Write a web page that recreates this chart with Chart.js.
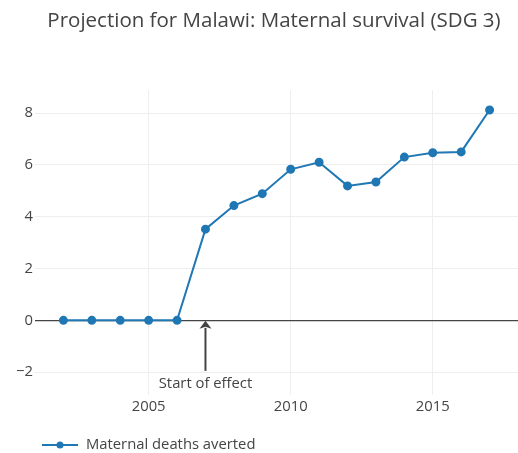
<!DOCTYPE html>
<html lang="en">
<head>
  <meta charset="UTF-8" />
  <title>Projection for Malawi</title>
  <script src="https://cdn.jsdelivr.net/npm/chart.js"></script>
  <style>
    html, body { margin: 0; padding: 0; background: #fff; }
    #wrap { width: 518px; height: 453px; }
  </style>
</head>
<body>
  <div id="wrap"><canvas id="chart"></canvas></div>

  <script>
    const years = [2002, 2003, 2004, 2005, 2006, 2007, 2008, 2009, 2010, 2011, 2012, 2013, 2014, 2015, 2016, 2017];
    const deathsAverted = [0, 0, 0, 0, 0, 3.52, 4.43, 4.89, 5.83, 6.1, 5.19, 5.34, 6.3, 6.47, 6.5, 8.12];
    const xTicks = [2005, 2010, 2015];
    const yTicks = [-2, 0, 2, 4, 6, 8];
    const effectYear = 2007;
    const effectLabel = 'Start of effect';
    const titleText = 'Projection for Malawi: Maternal survival (SDG 3)';
    const seriesName = 'Maternal deaths averted';

    const FONT = '"Open Sans", verdana, arial, sans-serif';
    const TEXT = '#444';
    const BLUE = '#1f77b4';

    // title, arrow annotation and legend drawn by hand
    const extras = {
      id: 'extras',
      afterDraw(chart) {
        const ctx = chart.ctx;
        const xs = chart.scales.x, ys = chart.scales.y;
        ctx.save();

        ctx.fillStyle = TEXT;
        ctx.font = '20.5px ' + FONT;
        ctx.textAlign = 'center';
        ctx.textBaseline = 'middle';
        ctx.fillText(titleText, 274, 21);

        // annotation arrow
        const ax = xs.getPixelForValue(effectYear);
        const ay = ys.getPixelForValue(0) + 0.5;
        ctx.strokeStyle = TEXT;
        ctx.fillStyle = TEXT;
        ctx.lineWidth = 2;
        ctx.beginPath();
        ctx.moveTo(ax, ay + 7);
        ctx.lineTo(ax, ay + 50);
        ctx.stroke();
        ctx.beginPath();
        ctx.moveTo(ax, ay);
        ctx.lineTo(ax - 6, ay + 8);
        ctx.lineTo(ax, ay + 6);
        ctx.lineTo(ax + 6, ay + 8);
        ctx.closePath();
        ctx.fill();
        ctx.font = '14.8px ' + FONT;
        ctx.fillText(effectLabel, ax, ay + 63);

        // legend
        const ly = 445;
        ctx.strokeStyle = BLUE;
        ctx.fillStyle = BLUE;
        ctx.lineWidth = 2;
        ctx.beginPath();
        ctx.moveTo(42, ly);
        ctx.lineTo(78, ly);
        ctx.stroke();
        ctx.beginPath();
        ctx.arc(60, ly, 3.5, 0, Math.PI * 2);
        ctx.fill();
        ctx.fillStyle = TEXT;
        ctx.textAlign = 'left';
        ctx.font = '14.8px ' + FONT;
        ctx.fillText(seriesName, 86, ly);

        ctx.restore();
      }
    };

    new Chart(document.getElementById('chart'), {
      type: 'line',
      data: {
        datasets: [{
          label: seriesName,
          data: years.map((y, i) => ({ x: y, y: deathsAverted[i] })),
          borderColor: BLUE,
          backgroundColor: BLUE,
          borderWidth: 2,
          pointRadius: 3.5,
          pointHoverRadius: 4,
          tension: 0
        }]
      },
      options: {
        responsive: true,
        maintainAspectRatio: false,
        animation: false,
        layout: { autoPadding: false, padding: { top: 90, right: 0, bottom: 0, left: 0 } },
        plugins: {
          legend: { display: false },
          title: { display: false },
          tooltip: { enabled: false }
        },
        scales: {
          x: {
            type: 'linear',
            min: 2001,
            max: 2018,
            afterFit(s) { s.height = 58; },
            afterBuildTicks(s) { s.ticks = xTicks.map(v => ({ value: v })); },
            border: { display: false },
            grid: { color: '#eee', drawTicks: false },
            ticks: {
              color: TEXT,
              font: { family: FONT, size: 14.8 },
              padding: 3,
              maxRotation: 0,
              callback: v => String(v)
            }
          },
          y: {
            min: -2.88,
            max: 8.89,
            afterFit(s) { s.width = 35; },
            afterBuildTicks(s) { s.ticks = yTicks.map(v => ({ value: v })); },
            border: { display: false },
            grid: {
              drawTicks: false,
              color: c => c.tick && c.tick.value === 0 ? '#444' : '#eee',
              lineWidth: c => c.tick && c.tick.value === 0 ? 1.2 : 1
            },
            ticks: {
              color: TEXT,
              font: { family: FONT, size: 14.8 },
              padding: 2,
              callback: v => String(v).replace('-', '\u2212')
            }
          }
        }
      },
      plugins: [extras]
    });
  </script>
</body>
</html>
